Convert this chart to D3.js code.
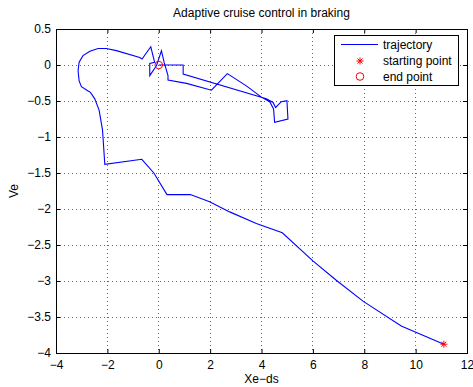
<!DOCTYPE html>
<html><head><meta charset="utf-8">
<script src="https://cdn.jsdelivr.net/npm/d3@7"></script>
<style>body{margin:0;background:#fff}svg{display:block}text{font-family:"Liberation Sans",Arial,sans-serif;}</style>
</head><body>
<svg id="c" width="473" height="387"></svg>
<script>
const trajX = [11.10, 9.44, 7.95, 6.91, 6.00, 4.81, 3.80, 2.76, 1.98, 1.23, 0.32, -0.19, -0.66, -2.10, -2.19, -2.32, -2.49, -2.66, -2.75, -3.01, -3.10, -3.14, -3.10, -2.95, -2.68, -2.36, -2.04, -1.65, -0.74, -0.65, -0.31, -0.16, -0.35, -0.35, -0.09, 0.105, 0.21, 0.36, 0.36, 1.08, 2.05, 2.67, 3.41, 4.01, 4.32, 4.47, 4.51, 5.03, 4.99, 4.77, 4.55, 4.45, 4.19, 0.95, 0.95, 0];
const trajY = [-3.878, -3.625, -3.28, -2.99, -2.72, -2.33, -2.20, -2.04, -1.90, -1.80, -1.80, -1.50, -1.31, -1.38, -0.90, -0.63, -0.47, -0.38, -0.36, -0.30, -0.22, -0.08, 0.04, 0.13, 0.19, 0.23, 0.23, 0.20, 0.105, 0.083, 0.253, 0.036, 0.022, -0.148, -0.01, 0.198, 0.036, -0.148, -0.208, -0.255, -0.35, -0.12, -0.29, -0.45, -0.51, -0.61, -0.795, -0.75, -0.495, -0.51, -0.59, -0.52, -0.47, -0.125, 0, 0];
const startPoint = [11.10, -3.878];
const endPoint = [0, 0];
const xTicks = [-4, -2, 0, 2, 4, 6, 8, 10, 12];
const yTicks = [0.5, 0, -0.5, -1, -1.5, -2, -2.5, -3, -3.5, -4];
const legendLabels = ["trajectory", "starting point", "end point"];
const titleText = "Adaptive cruise control in braking";
const xLabel = "Xe\u2212ds";
const yLabel = "Ve";

const FS = 12;
const L = 56, R = 467, T = 29, B = 353;
const svg = d3.select("#c");
const x = d3.scaleLinear().domain([-4, 12]).range([L, R]);
const y = d3.scaleLinear().domain([-4, 0.5]).range([B, T]);
const fmt = v => String(v).replace("-", "\u2212");

// grid
const g = svg.append("g");
g.selectAll(".gx").data(xTicks.slice(1, -1)).join("line")
  .attr("x1", d => x(d)).attr("x2", d => x(d)).attr("y1", T).attr("y2", B)
  .attr("stroke", "#000").attr("stroke-width", 0.6).attr("stroke-dasharray", "1,3").attr("shape-rendering","crispEdges");
g.selectAll(".gy").data(yTicks.slice(1, -1)).join("line")
  .attr("y1", d => y(d)).attr("y2", d => y(d)).attr("x1", L).attr("x2", R)
  .attr("stroke", "#000").attr("stroke-width", 0.6).attr("stroke-dasharray", "1,3").attr("shape-rendering","crispEdges");

// axes with inward ticks
const ax = d3.axisBottom(x).tickValues(xTicks).tickSize(-4).tickPadding(7).tickFormat(fmt);
const ay = d3.axisLeft(y).tickValues(yTicks).tickSize(-4).tickPadding(5).tickFormat(fmt);
const gxA = svg.append("g").attr("transform", `translate(0,${B})`).call(ax);
const gyA = svg.append("g").attr("transform", `translate(${L},0)`).call(ay);
const gxT = svg.append("g").attr("transform", `translate(0,${T})`).call(d3.axisTop(x).tickValues(xTicks).tickSize(-4).tickFormat(""));
const gyR = svg.append("g").attr("transform", `translate(${R},0)`).call(d3.axisRight(y).tickValues(yTicks).tickSize(-4).tickFormat(""));
[gxA, gyA, gxT, gyR].forEach(a => {
  a.select(".domain").remove();
  a.selectAll("line").attr("stroke", "#000");
  a.selectAll("text").attr("font-size", FS).attr("fill", "#000").attr("font-family", "Liberation Sans, Arial, sans-serif");
});
svg.append("rect").attr("x", L).attr("y", T).attr("width", R - L).attr("height", B - T)
  .attr("fill", "none").attr("stroke", "#000").attr("stroke-width", 1).attr("shape-rendering","crispEdges");

// trajectory
const pts = trajX.map((v, i) => [v, trajY[i]]);
svg.append("path").datum(pts)
  .attr("d", d3.line().x(d => x(d[0])).y(d => y(d[1])))
  .attr("fill", "none").attr("stroke", "#0000ff").attr("stroke-width", 1.1);

// markers
function star(sel, cx, cy, r) {
  const gg = sel.append("g").attr("stroke", "#ff0000").attr("stroke-width", 1);
  [0, 45, 90, 135].forEach(a => {
    const rad = a * Math.PI / 180;
    gg.append("line").attr("x1", cx - r * Math.cos(rad)).attr("y1", cy - r * Math.sin(rad))
      .attr("x2", cx + r * Math.cos(rad)).attr("y2", cy + r * Math.sin(rad));
  });
}
star(svg, x(startPoint[0]), y(startPoint[1]), 3.5);
svg.append("circle").attr("cx", x(endPoint[0])).attr("cy", y(endPoint[1])).attr("r", 3.8)
  .attr("fill", "none").attr("stroke", "#ff0000").attr("stroke-width", 1);

// legend
const lg = svg.append("g");
lg.append("rect").attr("x", 334.5).attr("y", 35.5).attr("width", 124).attr("height", 50)
  .attr("fill", "#fff").attr("stroke", "#000").attr("stroke-width", 1);
lg.append("line").attr("x1", 341).attr("x2", 378).attr("y1", 44.5).attr("y2", 44.5).attr("stroke", "#0000ff").attr("stroke-width", 1);
star(lg, 360, 61, 3.5);
lg.append("circle").attr("cx", 360).attr("cy", 76.5).attr("r", 3.8).attr("fill", "none").attr("stroke", "#ff0000");
lg.selectAll("text.l").data(legendLabels).join("text")
  .attr("x", 383).attr("y", (d, i) => 44.5 + i * 16 + 4.5)
  .attr("font-size", FS).attr("fill", "#000").text(d => d);

// title & labels
svg.append("text").attr("x", (L + R) / 2).attr("y", 17).attr("text-anchor", "middle").attr("font-size", FS).text(titleText);
svg.append("text").attr("x", (L + R) / 2).attr("y", 383).attr("text-anchor", "middle").attr("font-size", FS).text(xLabel);
svg.append("text").attr("transform", `translate(18,${(T + B) / 2}) rotate(-90)`).attr("text-anchor", "middle").attr("font-size", FS).text(yLabel);
</script>
</body></html>
